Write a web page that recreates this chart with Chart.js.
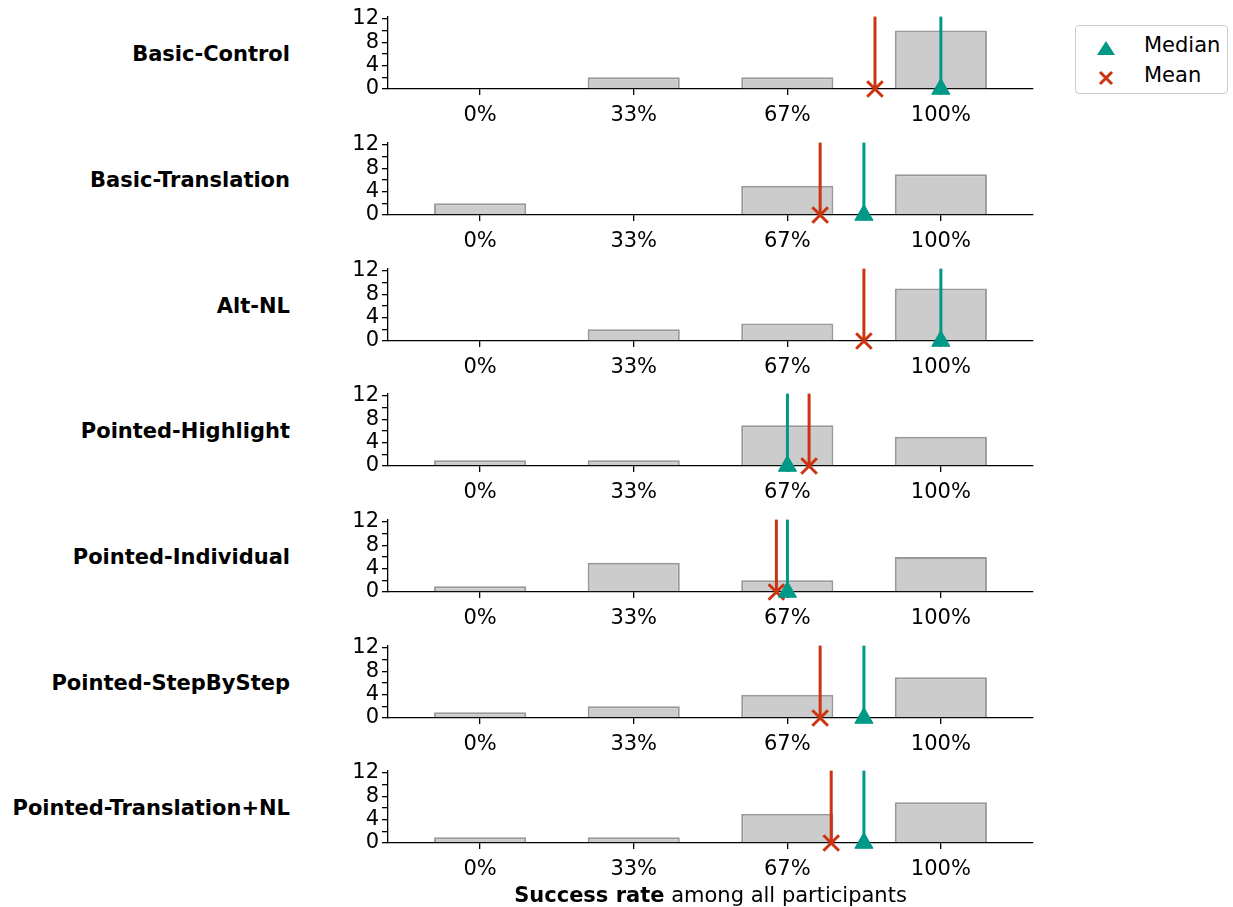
<!DOCTYPE html>
<html>
<head>
<meta charset="utf-8">
<script src="https://cdn.jsdelivr.net/npm/chart.js@4/dist/chart.umd.min.js"></script>
<style>
  body { margin: 0; width: 1233px; height: 907px; background: #fff; position: relative; overflow: hidden;
         font-family: 'DejaVu Sans', sans-serif; color: #000; }
  .panel { position: absolute; left: 300px; width: 747px; height: 128px; }
  .row-label { position: absolute; left: 0; width: 290px; text-align: right; font-weight: bold;
               font-size: 21px; line-height: 24px; white-space: nowrap; }
  #x-title { position: absolute; left: 388px; width: 645px; top: 883px; text-align: center;
             font-size: 21px; line-height: 24px; white-space: nowrap; }
  #legend { position: absolute; left: 1075px; top: 25px; width: 151px; height: 67px;
            border: 1px solid #cccccc; border-radius: 4px; background: #fff; }
  .leg-text { position: absolute; left: 68px; font-size: 21px; line-height: 24px; }
  .leg-mark { position: absolute; }
</style>
</head>
<body>
<div id="charts"></div>
<div id="x-title"><b>Success rate</b> among all participants</div>
<div id="legend">
  <svg class="leg-mark" style="left:21px;top:15px" width="18" height="14">
    <polygon points="9,0 18,14 0,14" fill="#009988"/>
  </svg>
  <div class="leg-text" style="top:7px">Median</div>
  <svg class="leg-mark" style="left:22px;top:44px" width="16" height="16">
    <path d="M2,2 L14,14 M14,2 L2,14" stroke="#CC3311" stroke-width="3"/>
  </svg>
  <div class="leg-text" style="top:37px">Mean</div>
</div>
<script>
const conditions = ['Basic-Control', 'Basic-Translation', 'Alt-NL', 'Pointed-Highlight',
                    'Pointed-Individual', 'Pointed-StepByStep', 'Pointed-Translation+NL'];
const bins = [0, 1 / 3, 2 / 3, 1];
const binLabels = ['0%', '33%', '67%', '100%'];
const counts = [
  [0, 2, 2, 10],
  [2, 0, 5, 7],
  [0, 2, 3, 9],
  [1, 1, 7, 5],
  [1, 5, 2, 6],
  [1, 2, 4, 7],
  [1, 1, 5, 7]
];
const means = [0.857, 0.738, 0.833, 0.714, 0.643, 0.738, 0.762];
const medians = [1, 0.833, 1, 0.667, 0.667, 0.833, 0.833];
const yTicks = [0, 2, 4, 6, 8, 10, 12];
const yLabelTicks = [0, 4, 8, 12];
const xMin = -0.2, xMax = 1.2, yMax = 12.4;

const MEDIAN_COLOR = '#009988';
const MEAN_COLOR = '#CC3311';

Chart.defaults.font.family = "'DejaVu Sans', sans-serif";
Chart.defaults.font.size = 21;
Chart.defaults.color = '#000';

const container = document.getElementById('charts');

function vline(x, color, style, radius, order) {
  return {
    type: 'line', order, clip: false,
    data: [{ x, y: 0 }, { x, y: yMax }],
    borderColor: color, borderWidth: 3,
    pointStyle: style,
    pointRadius: c => c.dataIndex === 0 ? radius : 0,
    pointHoverRadius: c => c.dataIndex === 0 ? radius : 0,
    pointBackgroundColor: color, pointBorderColor: color,
    pointBorderWidth: style === 'crossRot' ? 3 : 1
  };
}

conditions.forEach((name, i) => {
  // page y of this panel's x axis
  const baseline = 89.3 + i * 125.67;

  const div = document.createElement('div');
  div.className = 'panel';
  div.style.top = (baseline - 88) + 'px';
  const canvas = document.createElement('canvas');
  div.appendChild(canvas);
  container.appendChild(div);

  const label = document.createElement('div');
  label.className = 'row-label';
  label.style.top = (baseline - 47) + 'px';
  label.textContent = name;
  container.appendChild(label);

  new Chart(canvas, {
    type: 'bar',
    data: {
      datasets: [
        vline(medians[i], MEDIAN_COLOR, 'triangle', 10.5, 0),
        vline(means[i], MEAN_COLOR, 'crossRot', 11, 1),
        {
          type: 'bar', order: 2,
          data: bins.map((b, j) => ({ x: b, y: counts[i][j] || null })),
          backgroundColor: '#cccccc', borderColor: '#999999', borderWidth: 2,
          categoryPercentage: 1, barPercentage: 0.6
        }
      ]
    },
    options: {
      responsive: true, maintainAspectRatio: false, animation: false,
      layout: { padding: { top: 0, right: 12, left: 0, bottom: 0 } },
      plugins: { legend: { display: false }, tooltip: { enabled: false } },
      events: [],
      scales: {
        x: {
          type: 'linear', min: xMin, max: xMax, offset: false,
          grid: { display: true, drawOnChartArea: false, drawTicks: true, tickLength: 6,
                  color: '#000', lineWidth: 1.3, offset: false },
          border: { display: true, color: '#000', width: 1.3 },
          afterBuildTicks: s => { s.ticks = bins.map(v => ({ value: v })); },
          afterFit: s => { s.height = 40; },
          ticks: { autoSkip: false, maxRotation: 0, padding: 8,
                   callback: (v, idx) => binLabels[idx] }
        },
        y: {
          min: 0, max: yMax,
          grid: { display: true, drawOnChartArea: false, drawTicks: true, tickLength: 6,
                  color: '#000', lineWidth: 1.3 },
          border: { display: true, color: '#000', width: 1.3 },
          afterBuildTicks: s => { s.ticks = yTicks.map(v => ({ value: v })); },
          afterFit: s => { s.width = 88; },
          ticks: { padding: 3, autoSkip: false, font: { lineHeight: 1.2 },
                   callback: v => yLabelTicks.includes(v) ? String(v) : '' }
        }
      }
    }
  });
});
</script>
</body>
</html>
